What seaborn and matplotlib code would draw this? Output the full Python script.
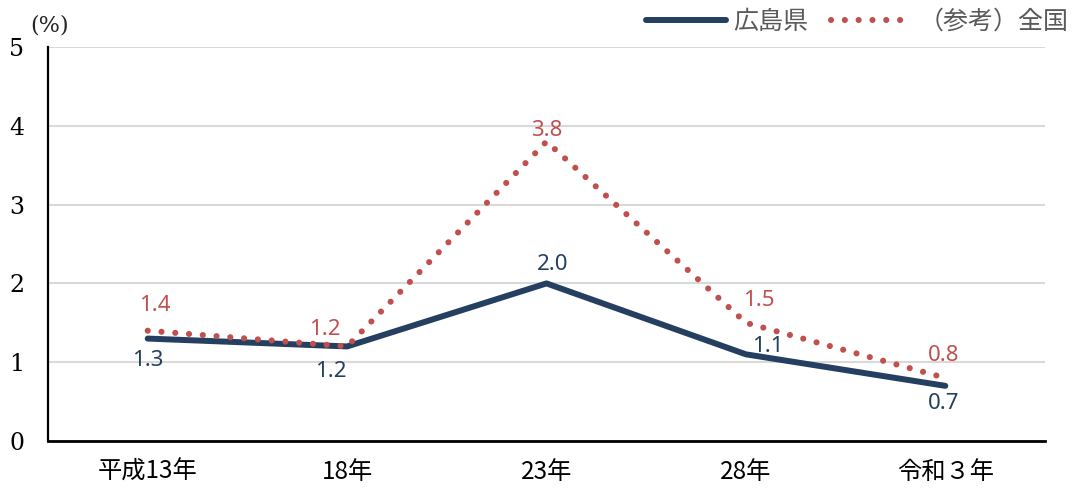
import matplotlib
matplotlib.use("Agg")
import matplotlib.pyplot as plt
import seaborn as sns
import pandas as pd

categories = ["平成13年", "18年", "23年", "28年", "令和３年"]
hiroshima = [1.3, 1.2, 2.0, 1.1, 0.7]
national = [1.4, 1.2, 3.8, 1.5, 0.8]
series_names = ["広島県", "（参考）全国"]

navy = "#243F60"
red = "#C0504D"

sns.set_theme(style="white")
plt.rcParams["font.family"] = ["Noto Sans CJK JP", "DejaVu Sans"]

df = pd.DataFrame({
    "year": categories * 2,
    "rate": hiroshima + national,
    "area": [series_names[0]] * len(categories) + [series_names[1]] * len(categories),
})

fig = plt.figure(figsize=(10.76, 4.88), dpi=100)
ax = fig.add_axes([0.0446, 0.0963, 0.9266, 0.8074])

sns.lineplot(data=df[df["area"] == series_names[0]], x="year", y="rate",
             color=navy, linewidth=4.3, ax=ax, label=series_names[0],
             solid_capstyle="round", solid_joinstyle="round")
sns.lineplot(data=df[df["area"] == series_names[1]], x="year", y="rate",
             color=red, linewidth=4.4, ax=ax, label=series_names[1],
             linestyle=(0, (0.01, 2.25)), dash_capstyle="round")

ax.set_xlim(-0.5, 4.5)
ax.set_ylim(0, 5)
ax.set_yticks([0, 1, 2, 3, 4, 5])
ax.set_yticklabels(["0", "1", "2", "3", "4", "5"], family=["DejaVu Serif"], fontsize=17)
ax.set_xticks(range(len(categories)))
ax.set_xticklabels(categories, fontsize=17.5)
ax.set_xlabel("")
ax.set_ylabel("")
ax.tick_params(axis="both", length=0, colors="#000000")
ax.tick_params(axis="y", pad=17)
ax.tick_params(axis="x", pad=13)

ax.yaxis.grid(True, color="#D9D9D9", linewidth=1.5)
ax.set_axisbelow(True)
for side in ["top", "right"]:
    ax.spines[side].set_visible(False)
ax.spines["left"].set_color("black")
ax.spines["left"].set_linewidth(1.6)
ax.spines["bottom"].set_color("black")
ax.spines["bottom"].set_linewidth(2.0)

# value labels (pixel offsets from each point)
h_offsets = [(0, -22), (-16, -25), (6, 19), (22, 8), (-2, -18)]
n_offsets = [(7, 25), (-22, 17), (0, 11), (13, 22), (-2, 22)]
for i, (v, off) in enumerate(zip(hiroshima, h_offsets)):
    ax.annotate(f"{v:.1f}", (i, v), xytext=off, textcoords="offset pixels",
                ha="center", va="center", color=navy, fontsize=16,
                family=["Noto Sans"])
for i, (v, off) in enumerate(zip(national, n_offsets)):
    ax.annotate(f"{v:.1f}", (i, v), xytext=off, textcoords="offset pixels",
                ha="center", va="center", color=red, fontsize=16,
                family=["Noto Sans"])

ax.get_legend().remove()
handles, labels = ax.get_legend_handles_labels()
fig.legend(handles, labels, loc="center right", bbox_to_anchor=(1.014, 0.955),
           ncol=2, frameon=False, fontsize=18, handlelength=3.2,
           columnspacing=0.9, handletextpad=0.3, labelcolor="#595959")

fig.text(0.028, 0.948, "(%)", fontsize=16, family=["DejaVu Serif"], va="center")

fig.savefig("out.png", dpi=100)
